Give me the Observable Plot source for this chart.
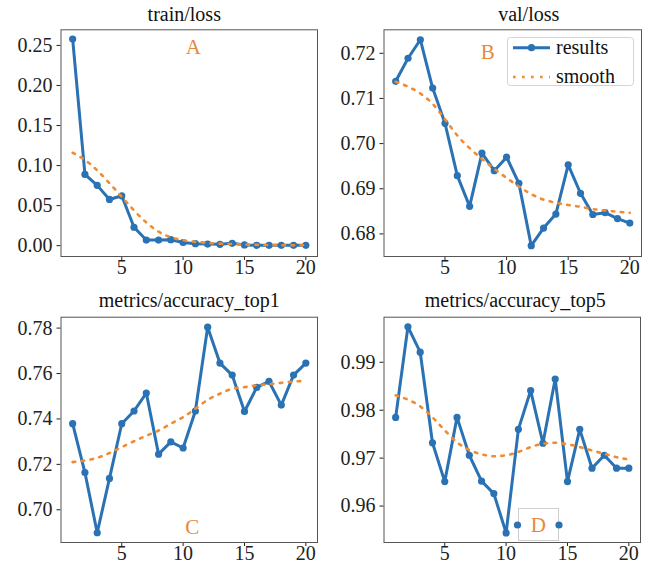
<!DOCTYPE html>
<html><head><meta charset="utf-8">
<script src="https://cdn.jsdelivr.net/npm/d3@7"></script>
<script src="https://cdn.jsdelivr.net/npm/@observablehq/plot@0.6"></script>
<style>
body{margin:0;background:#fff;}
#wrap{position:relative;width:649px;height:564px;overflow:hidden;background:#fff;}
#wrap svg{position:absolute;}
#wrap svg, #wrap svg text{font-family:"Liberation Serif","DejaVu Serif","Times New Roman",Times,serif !important;}
</style></head><body><div id="wrap"></div>
<script>
// ---- data ----
const epochs = [1,2,3,4,5,6,7,8,9,10,11,12,13,14,15,16,17,18,19,20];
const trainLoss = [0.258,0.089,0.0753,0.0577,0.0623,0.023,0.007,0.007,0.0075,0.004,0.0025,0.002,0.0017,0.003,0.001,0.0005,0.0005,0.0005,0.0005,0.0005];
const trainLossSmooth = [0.116,0.107,0.094,0.078,0.061,0.044,0.029,0.0175,0.0105,0.0068,0.0048,0.0035,0.0026,0.002,0.0015,0.0011,0.0008,0.0006,0.0005,0.0005];
const valLoss = [0.7138,0.7189,0.7230,0.7123,0.7045,0.6929,0.6861,0.6979,0.6940,0.6970,0.6912,0.6774,0.6813,0.6844,0.6953,0.6890,0.6843,0.6847,0.6834,0.6824];
const valLossSmooth = [0.7137,0.7126,0.7111,0.7088,0.7054,0.7018,0.6990,0.6966,0.6944,0.6924,0.6905,0.6888,0.6876,0.6869,0.6864,0.6860,0.6855,0.6852,0.6849,0.6847];
const top1 = [0.7379,0.7164,0.6899,0.7138,0.7379,0.7435,0.7514,0.7245,0.7299,0.7272,0.7435,0.7804,0.7646,0.7593,0.7433,0.7539,0.7565,0.7461,0.7593,0.7646];
const top1Smooth = [0.7210,0.7217,0.7229,0.7250,0.7276,0.7302,0.7326,0.7349,0.7379,0.7408,0.7445,0.7484,0.7511,0.7533,0.7540,0.7548,0.7553,0.7559,0.7565,0.7567];
const top5 = [0.9785,0.9974,0.9921,0.9732,0.9651,0.9785,0.9706,0.9652,0.9626,0.9544,0.9760,0.9841,0.9731,0.9865,0.9651,0.9760,0.9679,0.9706,0.9679,0.9679];
const top5Smooth = [0.9831,0.9822,0.9808,0.9785,0.9758,0.9733,0.9717,0.9708,0.9704,0.9706,0.9713,0.9723,0.9730,0.9732,0.9729,0.9723,0.9716,0.9709,0.9702,0.9697];

const titles = ["train/loss","val/loss","metrics/accuracy_top1","metrics/accuracy_top5"];
const letters = ["A","B","C","D"];
const legendLabels = ["results","smooth"];
const xTicks = [5,10,15,20];
const yTicksA = [0,0.05,0.10,0.15,0.20,0.25];
const yTicksB = [0.68,0.69,0.70,0.71,0.72];
const yTicksC = [0.70,0.72,0.74,0.76,0.78];
const yTicksD = [0.96,0.97,0.98,0.99];

const BLUE = "#2a72b3";
const ORANGE = "#f28b30";
const LETTER = "#e8893a";
const FONT = '"Liberation Serif", "DejaVu Serif", "Times New Roman", Times, serif';

const wrap = document.getElementById("wrap");

function panel(o) {
  const rows = epochs.map((e, i) => ({epoch: e, value: o.results[i], smooth: o.smooth[i]}));
  const svg = Plot.plot({
    width: o.width, height: o.height,
    marginTop: o.mt, marginRight: o.mr, marginBottom: o.mb, marginLeft: o.ml,
    style: {fontFamily: FONT, fontSize: "20px", color: "#222", background: "transparent", overflow: "visible"},
    x: {domain: [0.05, 20.95], ticks: xTicks, tickSize: 4, tickPadding: -1, label: null},
    y: {domain: o.yDomain, ticks: o.yTicks, tickFormat: ".2f", tickSize: 4, tickPadding: 4.5, label: null},
    marks: [
      Plot.frame({stroke: "#555", strokeWidth: 1}),
      Plot.line(rows, {x: "epoch", y: "value", stroke: BLUE, strokeWidth: 3}),
      Plot.dot(rows, {x: "epoch", y: "value", fill: BLUE, r: 3.6}),
      Plot.line(rows, {x: "epoch", y: "smooth", stroke: ORANGE, strokeWidth: 2.6, strokeDasharray: "2.6,6.4", curve: "monotone-x"}),
      Plot.text([o.title], {frameAnchor: "top", dx: o.tdx, dy: o.tdy, text: d => d, lineAnchor: "middle", fill: "#111", fontSize: 20}),
      Plot.text([o.letter], {frameAnchor: o.lAnchor, dx: o.ldx, dy: o.ldy, text: d => d, lineAnchor: "middle", fill: LETTER, fontSize: 21})
    ]
  });
  svg.setAttribute("font-family", FONT);
  svg.style.fontFamily = FONT;
  svg.style.left = o.left + "px";
  svg.style.top = o.top + "px";
  wrap.appendChild(svg);
}

panel({left: 0, top: 0, width: 325, height: 282, mt: 29.3, mr: 8, mb: 26, ml: 60.5,
  yDomain: [-0.0135, 0.2695], yTicks: yTicksA, results: trainLoss, smooth: trainLossSmooth,
  title: titles[0], tdx: -5, tdy: -15, letter: letters[0], lAnchor: "top", ldx: 4, ldy: 17.7});
panel({left: 325, top: 0, width: 324, height: 282, mt: 29.3, mr: 8, mb: 26, ml: 58.5,
  yDomain: [0.6750, 0.7252], yTicks: yTicksB, results: valLoss, smooth: valLossSmooth,
  title: titles[1], tdx: 16, tdy: -15, letter: letters[1], lAnchor: "top", ldx: -25, ldy: 22.7});
panel({left: 0, top: 282, width: 325, height: 282, mt: 34.7, mr: 8, mb: 22, ml: 60.5,
  yDomain: [0.6856, 0.7848], yTicks: yTicksC, results: top1, smooth: top1Smooth,
  title: titles[2], tdx: 0, tdy: -16.4, letter: letters[2], lAnchor: "bottom", ldx: 3, ldy: -15});
panel({left: 325, top: 282, width: 324, height: 282, mt: 34.7, mr: 9, mb: 22, ml: 58.5,
  yDomain: [0.9524, 0.9994], yTicks: yTicksD, results: top5, smooth: top5Smooth,
  title: titles[3], tdx: 3, tdy: -17, letter: letters[3], lAnchor: "bottom", ldx: 26, ldy: -17});

// ---- legend (panel B) and small box (panel D) overlay ----
const ov = d3.select(wrap).append("svg")
  .attr("width", 649).attr("height", 564)
  .attr("font-family", FONT).attr("font-size", 20)
  .style("left", "0px").style("top", "0px").style("pointer-events", "none");

const lg = ov.append("g");
lg.append("rect").attr("x", 507.5).attr("y", 37.5).attr("width", 126).attr("height", 48).attr("rx", 3)
  .attr("fill", "#fff").attr("fill-opacity", 0.85).attr("stroke", "#d4d4d4");
lg.append("line").attr("x1", 513).attr("x2", 550).attr("y1", 47.7).attr("y2", 47.7)
  .attr("stroke", BLUE).attr("stroke-width", 3);
lg.append("circle").attr("cx", 531.5).attr("cy", 47.7).attr("r", 3.6).attr("fill", BLUE);
lg.append("line").attr("x1", 513).attr("x2", 550).attr("y1", 77).attr("y2", 77)
  .attr("stroke", ORANGE).attr("stroke-width", 2.6).attr("stroke-dasharray", "2.6,6.4");
lg.append("text").attr("x", 556).attr("y", 47.7).attr("dy", "0.32em").attr("fill", "#111").text(legendLabels[0]);
lg.append("text").attr("x", 556).attr("y", 77).attr("dy", "0.32em").attr("fill", "#111").text(legendLabels[1]);

const db = ov.append("g");
db.append("rect").attr("x", 518.5).attr("y", 508.5).attr("width", 40).attr("height", 32)
  .attr("fill", "none").attr("stroke", "#cfcfcf");
db.append("circle").attr("cx", 517.5).attr("cy", 525).attr("r", 3.6).attr("fill", BLUE);
db.append("circle").attr("cx", 559).attr("cy", 525).attr("r", 3.6).attr("fill", BLUE);
</script>
</body></html>
